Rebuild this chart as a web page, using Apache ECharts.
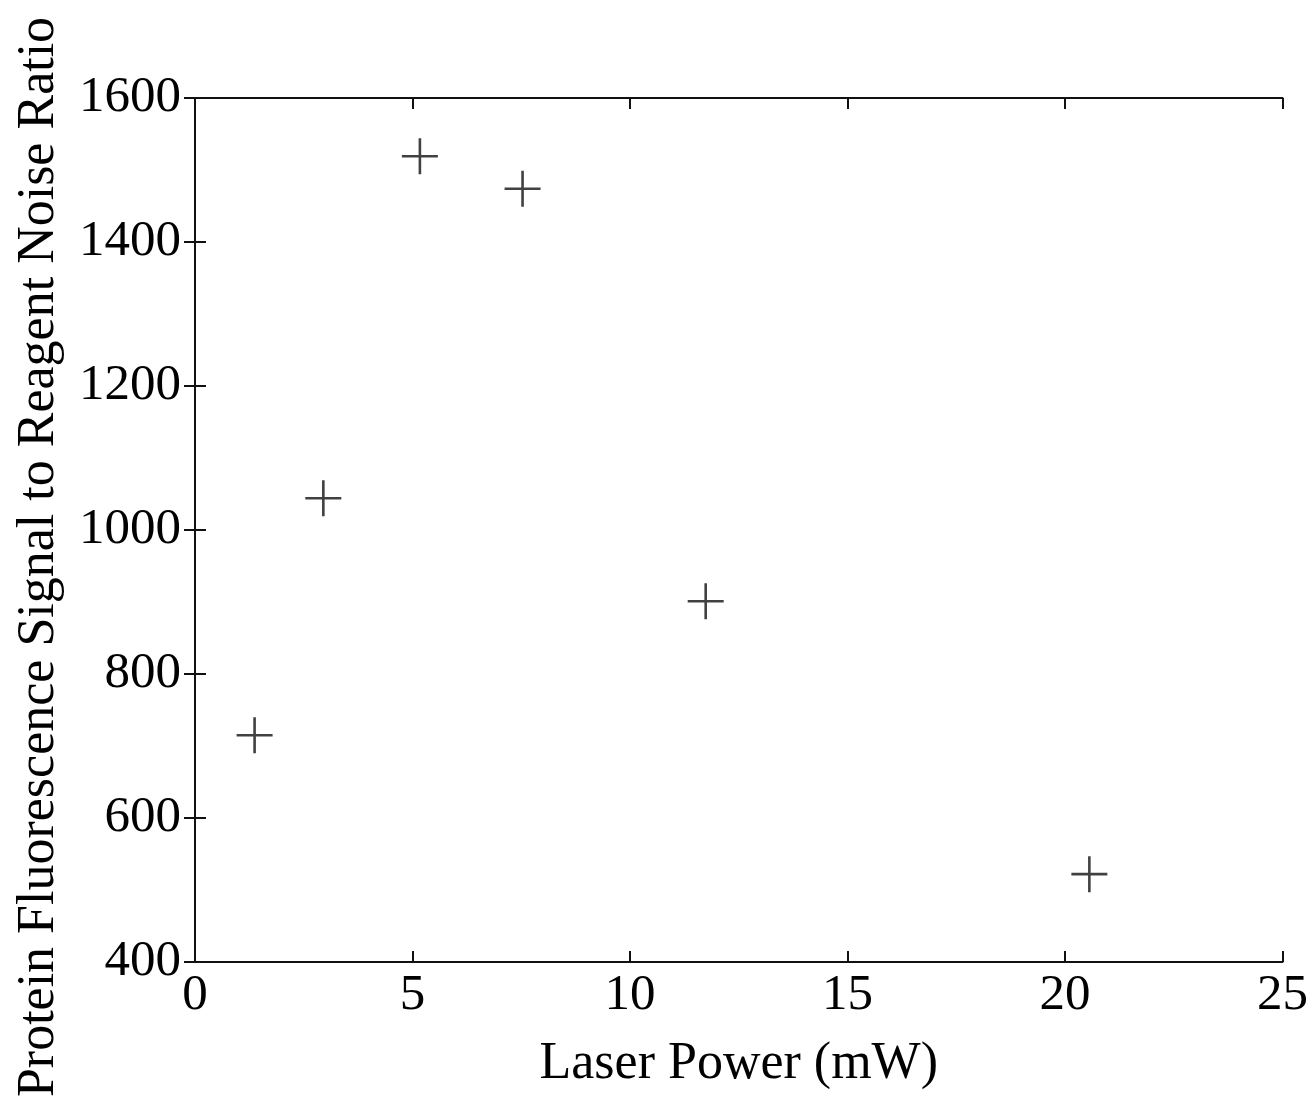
<!DOCTYPE html>
<html>
<head>
<meta charset="utf-8">
<script src="https://cdn.jsdelivr.net/npm/echarts@6/dist/echarts.min.js"></script>
<style>
  html, body { margin: 0; padding: 0; background: #fff; }
  #chart { width: 1311px; height: 1105px; }
</style>
</head>
<body>
<div id="chart"></div>
<script>
// Laser power (mW) and the measured signal-to-noise ratio at each setting
const laserPower = [1.37, 2.95, 5.17, 7.53, 11.74, 20.56];
const snRatio = [715, 1044, 1519, 1474, 901, 522];
const xTicks = [0, 5, 10, 15, 20, 25];
const yTicks = [400, 600, 800, 1000, 1200, 1400, 1600];

const font = 'Liberation Serif, Times New Roman, serif';
const ink = '#111';

const points = laserPower.map((x, i) => [x, snRatio[i]]);

const baseAxis = {
  axisLine: { show: true, lineStyle: { color: ink, width: 2 } },
  axisTick: { show: true, inside: true, length: 11, lineStyle: { color: ink, width: 2 } },
  splitLine: { show: false }
};

const chart = echarts.init(document.getElementById('chart'));
chart.setOption({
  animation: false,
  backgroundColor: '#fff',
  grid: { left: 195, right: 24, top: 98, bottom: 143 },
  xAxis: [
    Object.assign({}, baseAxis, {
      type: 'value', position: 'bottom',
      min: xTicks[0], max: xTicks[xTicks.length - 1], interval: 5,
      name: 'Laser Power (mW)', nameLocation: 'middle', nameGap: 76,
      nameTextStyle: { fontFamily: font, fontSize: 52, color: '#000' },
      axisLabel: { fontFamily: font, fontSize: 51, color: '#000', margin: 8 }
    }),
    Object.assign({}, baseAxis, {
      type: 'value', position: 'top',
      min: xTicks[0], max: xTicks[xTicks.length - 1], interval: 5,
      axisLabel: { show: false }
    })
  ],
  yAxis: [
    Object.assign({}, baseAxis, {
      type: 'value', position: 'left',
      min: yTicks[0], max: yTicks[yTicks.length - 1], interval: 200,
      name: 'Protein Fluorescence Signal to Reagent Noise Ratio',
      nameLocation: 'middle', nameGap: 130,
      nameTextStyle: { fontFamily: font, fontSize: 52, color: '#000', padding: [0, 54, 0, 0] },
      axisLabel: {
        fontFamily: font, fontSize: 51, color: '#000', margin: 14,
        formatter: v => String(v)
      }
    }),
    Object.assign({}, baseAxis, {
      type: 'value', position: 'right',
      min: yTicks[0], max: yTicks[yTicks.length - 1], interval: 200,
      axisLabel: { show: false }
    })
  ],
  series: [{
    type: 'scatter',
    xAxisIndex: 0,
    yAxisIndex: 0,
    data: points,
    symbol: 'path://M0,-10L0,10M-10,0L10,0',
    symbolSize: 36,
    itemStyle: { color: 'none', borderColor: ink, borderWidth: 2.6 },
    emphasis: { disabled: true }
  }]
});
</script>
</body>
</html>
